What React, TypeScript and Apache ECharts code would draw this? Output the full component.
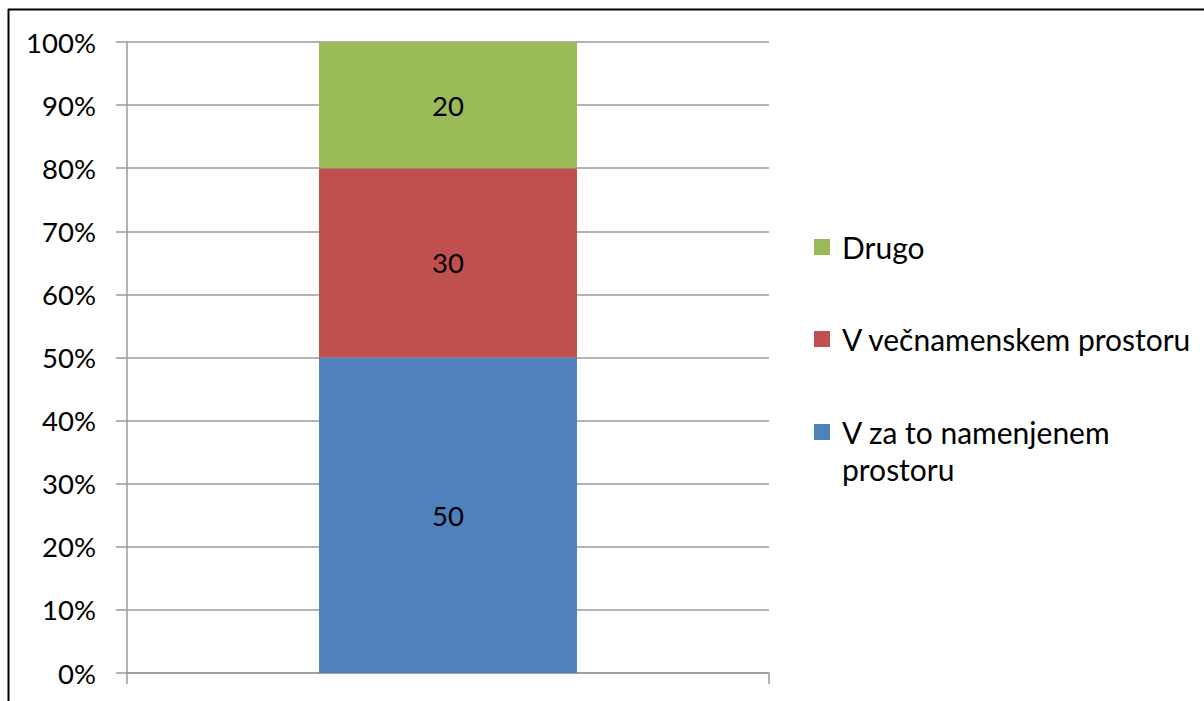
import React, { useEffect, useRef } from "react";
import * as echarts from "echarts";

const categories = [""];
const seriesNames = ["V za to namenjenem prostoru", "V večnamenskem prostoru", "Drugo"];
const seriesValues = [[50], [30], [20]];
const seriesColors = ["#4F81BD", "#C0504D", "#9BBB59"];
const legendOrder = [2, 1, 0];
const legendLabels = ["Drugo", "V večnamenskem prostoru", "V za to namenjenem\nprostoru"];

const FONT = "Lato";

export default function App() {
  const ref = useRef<HTMLDivElement>(null);
  useEffect(() => {
    if (!ref.current) return;
    const chart = echarts.init(ref.current, null, { renderer: "svg" });
    const legendY = [247, 339, 432];
    const graphic: any[] = [
      { type: "line", shape: { x1: 8, y1: 9.5, x2: 1204, y2: 9.5 }, style: { stroke: "#000", lineWidth: 2 } },
      { type: "line", shape: { x1: 8.5, y1: 9, x2: 8.5, y2: 701 }, style: { stroke: "#000", lineWidth: 2 } },
    ];
    legendOrder.forEach((si, i) => {
      graphic.push({
        type: "rect",
        shape: { x: 814, y: legendY[i] - 8, width: 16, height: 16 },
        style: { fill: seriesColors[si] },
      });
      graphic.push({
        type: "text",
        x: 842,
        y: legendY[i] - 18.5,
        style: {
          text: legendLabels[i],
          font: `30px ${FONT}`,
          fill: "#000",
          lineHeight: 37,
          verticalAlign: "top",
          align: "left",
        },
      });
    });
    chart.setOption({
      animation: false,
      grid: { left: 127, right: 435, top: 42, bottom: 28, containLabel: false },
      xAxis: {
        type: "category",
        data: categories,
        axisLine: { show: true, lineStyle: { color: "#9a9a9a", width: 1.5 } },
        axisTick: { show: true, length: 11, lineStyle: { color: "#9a9a9a", width: 1.5 } },
        axisLabel: { show: false },
      },
      yAxis: {
        type: "value",
        min: 0,
        max: 100,
        interval: 10,
        axisLine: { show: true, lineStyle: { color: "#9a9a9a", width: 1.5 } },
        axisTick: { show: true, length: 11, lineStyle: { color: "#9a9a9a", width: 1.5 } },
        splitLine: { show: true, lineStyle: { color: "#9a9a9a", width: 1.5 } },
        axisLabel: {
          formatter: "{value}%",
          color: "#000",
          fontSize: 27.5,
          fontFamily: FONT,
          margin: 31,
        },
      },
      series: seriesNames.map((name, i) => ({
        type: "bar",
        name,
        stack: "total",
        data: seriesValues[i],
        barWidth: 258,
        itemStyle: { color: seriesColors[i] },
        label: {
          show: true,
          position: "inside",
          color: "#000",
          fontSize: 27.5,
          fontFamily: FONT,
        },
      })),
      graphic,
    });
    return () => chart.dispose();
  }, []);
  return (
    <div
      ref={ref}
      style={{ position: "absolute", left: 0, top: 0, width: 1204, height: 701, background: "#fff" }}
    />
  );
}
